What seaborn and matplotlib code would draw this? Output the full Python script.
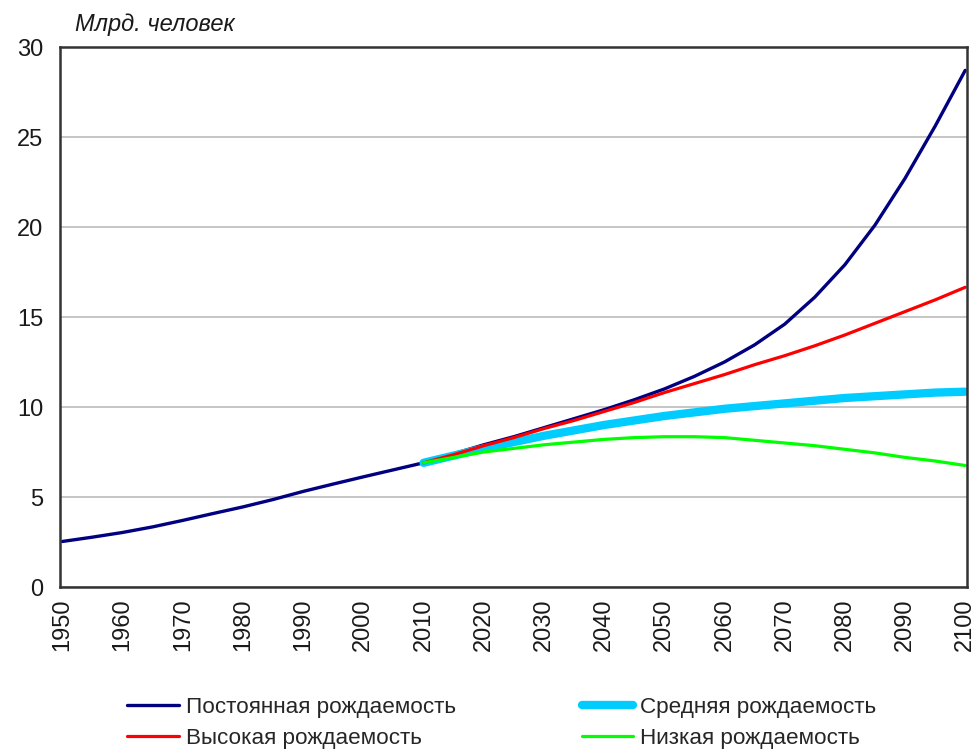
import pandas as pd
import matplotlib
matplotlib.use("Agg")
import matplotlib.pyplot as plt
import seaborn as sns

# Data (billion people)
years_hist = [1950, 1955, 1960, 1965, 1970, 1975, 1980, 1985, 1990, 1995, 2000, 2005, 2010]
years_proj = [2010, 2015, 2020, 2025, 2030, 2035, 2040, 2045, 2050, 2055, 2060,
              2065, 2070, 2075, 2080, 2085, 2090, 2095, 2100]

hist = [2.53, 2.77, 3.03, 3.34, 3.70, 4.08, 4.45, 4.86, 5.31, 5.72, 6.12, 6.51, 6.90]
constant = [6.90, 7.40, 7.90, 8.35, 8.85, 9.35, 9.85, 10.4, 11.0, 11.7, 12.5,
            13.45, 14.6, 16.1, 17.9, 20.1, 22.7, 25.6, 28.7]
high = [6.90, 7.35, 7.85, 8.30, 8.80, 9.25, 9.75, 10.25, 10.8, 11.3, 11.8,
        12.35, 12.85, 13.4, 14.0, 14.65, 15.3, 15.95, 16.65]
medium = [6.90, 7.30, 7.70, 8.05, 8.40, 8.70, 9.00, 9.25, 9.50, 9.70, 9.90,
          10.05, 10.2, 10.35, 10.5, 10.6, 10.7, 10.8, 10.85]
low = [6.90, 7.20, 7.50, 7.70, 7.90, 8.05, 8.20, 8.30, 8.35, 8.35, 8.30,
       8.15, 8.00, 7.85, 7.65, 7.45, 7.20, 7.00, 6.75]

labels = ['Постоянная рождаемость', 'Средняя рождаемость',
          'Высокая рождаемость', 'Низкая рождаемость']
x_ticks = list(range(1950, 2101, 10))
y_ticks = [0, 5, 10, 15, 20, 25, 30]

sns.set_style("white")
plt.rcParams['font.family'] = ['Liberation Sans', 'DejaVu Sans']

fig = plt.figure(figsize=(9.78, 7.55), dpi=100)
ax = fig.add_axes([60 / 978, 168 / 755, 907 / 978, 540 / 755])

# Constant fertility = history + constant projection
const_x = years_hist + years_proj[1:]
const_y = hist + constant[1:]
sns.lineplot(x=const_x, y=const_y, ax=ax, color='#000080', linewidth=2.4, label=labels[0])
sns.lineplot(x=years_proj, y=medium, ax=ax, color='#00CCFF', linewidth=6, label=labels[1])
sns.lineplot(x=years_proj, y=high, ax=ax, color='#FF0000', linewidth=2.3, label=labels[2])
sns.lineplot(x=years_proj, y=low, ax=ax, color='#00FF00', linewidth=2.3, label=labels[3])

ax.set_xlim(1949.6, 2100.3)
ax.set_ylim(0, 30)
ax.set_xticks(x_ticks)
ax.set_yticks(y_ticks)
ax.set_xticklabels([str(y) for y in x_ticks], rotation=90)
ax.tick_params(axis='both', length=0, labelsize=17, colors='#1a1a1a')
ax.tick_params(axis='x', pad=8)
ax.tick_params(axis='y', pad=12)
ax.yaxis.grid(True, color='#c0c0c0', linewidth=1.3)
ax.set_axisbelow(True)
for sp in ax.spines.values():
    sp.set_color('#333333')
    sp.set_linewidth(1.8)
ax.set_xlabel('')
ax.set_ylabel('')

fig.text(75 / 978, 1 - 25 / 755, 'Млрд. человек', style='italic', fontsize=17,
         va='center', ha='left', color='#1a1a1a')

# Legend: two columns below the plot
handles, labs = ax.get_legend_handles_labels()
order = [0, 2, 1, 3]
ax.get_legend().remove()
fig.legend([handles[i] for i in order], [labs[i] for i in order], ncol=2,
           loc='upper left', bbox_to_anchor=(127 / 978, 1 - 697 / 755),
           frameon=False, fontsize=16.2, handlelength=2.3, handletextpad=0.3,
           columnspacing=5.6, labelspacing=0.45, borderaxespad=0, borderpad=0)

fig.savefig('out.png', dpi=100)
